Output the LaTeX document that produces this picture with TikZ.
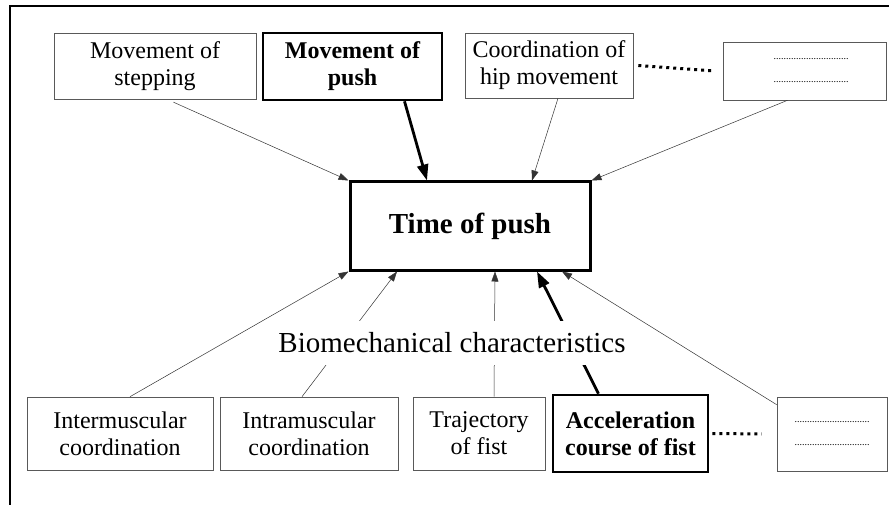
\documentclass[tikz,border=0pt]{standalone}
\usepackage{fontspec}
\setmainfont{Liberation Serif}
\usetikzlibrary{arrows.meta}

\tikzset{
    factor/.style={draw=black!65, line width=0.6pt, align=center, inner sep=0pt,
        font=\fontsize{24}{27}\selectfont},
    keyfactor/.style={factor, draw=black, line width=2.6pt,
        font=\fontsize{24}{27}\selectfont\bfseries},
    blank/.style={factor, font=\fontsize{10}{23}\selectfont},
    link/.style={-{Triangle[length=10pt,width=7pt]}, line width=0.5pt, draw=black!80},
    keylink/.style={-{Triangle[length=16pt,width=11pt]}, line width=2.8pt},
    etc/.style={line width=3pt, dash pattern=on 3pt off 4pt},
}

\begin{document}
\begin{tikzpicture}[x=1pt, y=-1pt]

    \useasboundingbox (0,0) rectangle (889,505);

    % Frame
    \draw[line width=1.8pt] (10,505) -- (10,6) -- (889,6);

    % Upper row
    \node[factor, minimum width=202pt, minimum height=66pt] (step) at (155,66) {Movement of\\stepping};
    \node[keyfactor, minimum width=179pt, minimum height=67pt] (push) at (352.5,66.5) {Movement of\\push};
    \node[factor, minimum width=168pt, minimum height=65pt] (hip) at (549,65.5) {Coordination of\\hip movement};
    \node[blank, minimum width=163pt, minimum height=58pt] (more) at (804.5,71) {\hspace{13pt}..............................\\\hspace{13pt}..............................};

    % Time of push
    \node[keyfactor, line width=3pt, minimum width=240pt, minimum height=88pt,
        font=\fontsize{29}{30}\selectfont\bfseries] (time) at (470,226) {Time of push};

    % Lower row
    \node[factor, minimum width=186pt, minimum height=73pt] (inter) at (120,433.5) {Intermuscular\\coordination};
    \node[factor, minimum width=178pt, minimum height=73pt] (intra) at (309,433.5) {Intramuscular\\coordination};
    \node[factor, minimum width=132pt, minimum height=73pt] (fist) at (479,433.5) {Trajectory\\of fist};
    \node[keyfactor, minimum width=155pt, minimum height=77pt] (accel) at (630.5,433.5) {Acceleration\\course of fist};
    \node[blank, minimum width=110pt, minimum height=74pt] (rest) at (832,434) {..............................\\..............................};

    % Dotted continuations
    \draw[etc] ([xshift=5pt]hip.east) -- ([xshift=-8pt]more.west);
    \draw[etc] ([xshift=3pt]accel.east) -- ([xshift=-15pt]rest.west);

    % Upper arrows
    \draw[link, shorten <=7pt] ([xshift=12pt]step.south) -- (time.north west);
    \draw[keylink] ([xshift=52pt]push.south) -- ([xshift=-43pt]time.north);
    \draw[link] ([xshift=9pt]hip.south) -- ([xshift=62pt]time.north);
    \draw[link] ([xshift=-17pt]more.south) -- (time.north east);

    % Lower arrows
    \draw[link] ([xshift=10pt]inter.north) -- (time.south west);
    \draw[link] ([xshift=-7pt]intra.north) -- ([xshift=-73pt]time.south);
    \draw[link] ([xshift=15pt]fist.north) -- ([xshift=25pt]time.south);
    \draw[keylink] ([xshift=-32pt]accel.north) -- ([xshift=67pt]time.south);
    \draw[link] ([yshift=-8pt]rest.north west) -- ([xshift=92pt]time.south);

    % Label over the lower arrows
    \node[fill=white, inner xsep=2pt, inner ysep=0pt, minimum height=44pt,
        font=\fontsize{29}{30}\selectfont] (bio) at (452,343) {Biomechanical characteristics};

\end{tikzpicture}
\end{document}
